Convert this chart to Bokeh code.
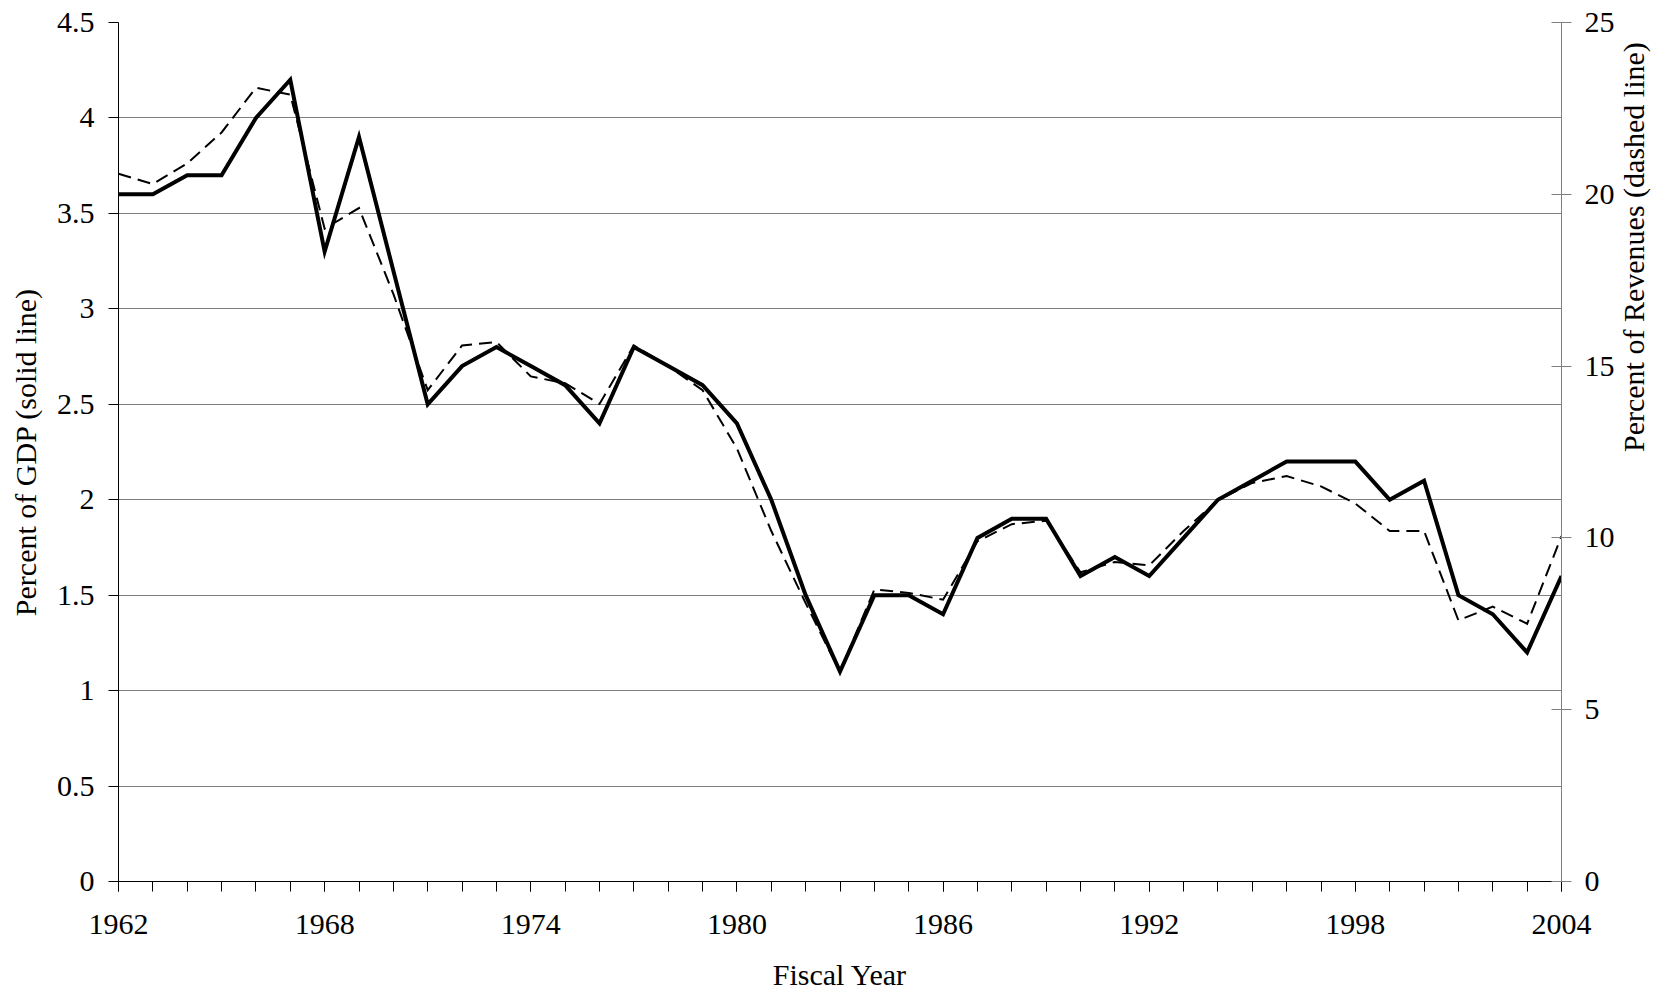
import math
from bokeh.plotting import figure
from bokeh.models import Range1d, LinearAxis, FixedTicker, CustomJSTickFormatter
from bokeh.embed import file_html
from bokeh.resources import INLINE

# ---- data ----
years = list(range(1962, 2005))
gdp_pct = [3.6, 3.6, 3.7, 3.7, 4.0, 4.2, 3.3, 3.9, 3.2, 2.5,
           2.7, 2.8, 2.7, 2.6, 2.4, 2.8, 2.7, 2.6, 2.4, 2.0,
           1.5, 1.1, 1.5, 1.5, 1.4, 1.8, 1.9, 1.9, 1.6, 1.7,
           1.6, 1.8, 2.0, 2.1, 2.2, 2.2, 2.2, 2.0, 2.1, 1.5,
           1.4, 1.2, 1.6]
rev_pct = [20.6, 20.3, 20.9, 21.8, 23.1, 22.9, 19.0, 19.6, 17.1, 14.3,
           15.6, 15.7, 14.7, 14.5, 13.9, 15.6, 15.0, 14.3, 12.6, 10.2,
           8.1, 6.1, 8.5, 8.4, 8.2, 9.9, 10.4, 10.5, 9.0, 9.3,
           9.2, 10.2, 11.1, 11.6, 11.8, 11.5, 11.0, 10.2, 10.2, 7.6,
           8.0, 7.5, 10.05]
x_major_ticks = [1962, 1968, 1974, 1980, 1986, 1992, 1998, 2004]
left_ticks = [0, 0.5, 1, 1.5, 2, 2.5, 3, 3.5, 4, 4.5]
right_ticks = [0, 5, 10, 15, 20, 25]
x_title = "Fiscal Year"
left_title = "Percent of GDP (solid line)"
right_title = "Percent of Revenues (dashed line)"

FONT = "Liberation Serif"
TICK_SIZE = "30px"
TITLE_SIZE = "30px"
GRID = "#808080"

p = figure(width=1669, height=994,
           x_range=Range1d(years[0], years[-1]),
           y_range=Range1d(left_ticks[0], left_ticks[-1]),
           output_backend="svg", toolbar_location=None,
           min_border_left=118, min_border_right=108,
           min_border_top=22, min_border_bottom=113)
p.outline_line_color = None
p.background_fill_color = "white"
p.border_fill_color = "white"

p.extra_y_ranges = {"rev": Range1d(right_ticks[0], right_ticks[-1])}

# grid
p.xgrid.visible = False
p.ygrid.ticker = FixedTicker(ticks=left_ticks)
p.ygrid.grid_line_color = GRID
p.ygrid.grid_line_width = 1

def style_title(ax, text, standoff):
    ax.axis_label = text
    ax.axis_label_text_font = FONT
    ax.axis_label_text_font_size = TITLE_SIZE
    ax.axis_label_text_font_style = "normal"
    ax.axis_label_text_color = "black"
    ax.axis_label_standoff = standoff

# x axis
xa = p.xaxis[0]
xa.ticker = FixedTicker(ticks=x_major_ticks, minor_ticks=years)
xa.axis_line_color = "black"
xa.major_tick_line_color = "black"
xa.minor_tick_line_color = "black"
xa.major_tick_in = 0
xa.major_tick_out = 10
xa.minor_tick_in = 0
xa.minor_tick_out = 10
xa.major_label_text_font = FONT
xa.major_label_text_font_size = TICK_SIZE
xa.major_label_text_color = "black"
xa.major_label_standoff = 23
style_title(xa, x_title, 21)

# left axis
ya = p.yaxis[0]
ya.ticker = FixedTicker(ticks=left_ticks)
ya.formatter = CustomJSTickFormatter(code="return tick.toString();")
ya.axis_line_color = "black"
ya.major_tick_line_color = "black"
ya.major_tick_in = 0
ya.major_tick_out = 10
ya.minor_tick_line_color = None
ya.major_label_text_font = FONT
ya.major_label_text_font_size = TICK_SIZE
ya.major_label_text_color = "black"
ya.major_label_standoff = 14
style_title(ya, left_title, 12)

# right axis
ra = LinearAxis(y_range_name="rev", ticker=FixedTicker(ticks=right_ticks))
ra.axis_line_color = GRID
ra.major_tick_line_color = GRID
ra.major_tick_in = 10
ra.major_tick_out = 10
ra.minor_tick_line_color = None
ra.major_label_text_font = FONT
ra.major_label_text_font_size = TICK_SIZE
ra.major_label_text_color = "black"
ra.major_label_standoff = 13
style_title(ra, right_title, 16)
ra.axis_label_orientation = math.pi / 2
p.add_layout(ra, "right")

# series
p.line(years, gdp_pct, line_color="black", line_width=4, line_join="miter")
p.line(years, rev_pct, y_range_name="rev", line_color="black", line_width=2,
       line_dash="13 7", line_join="miter")

open("out.html", "w").write(file_html(p, INLINE))
